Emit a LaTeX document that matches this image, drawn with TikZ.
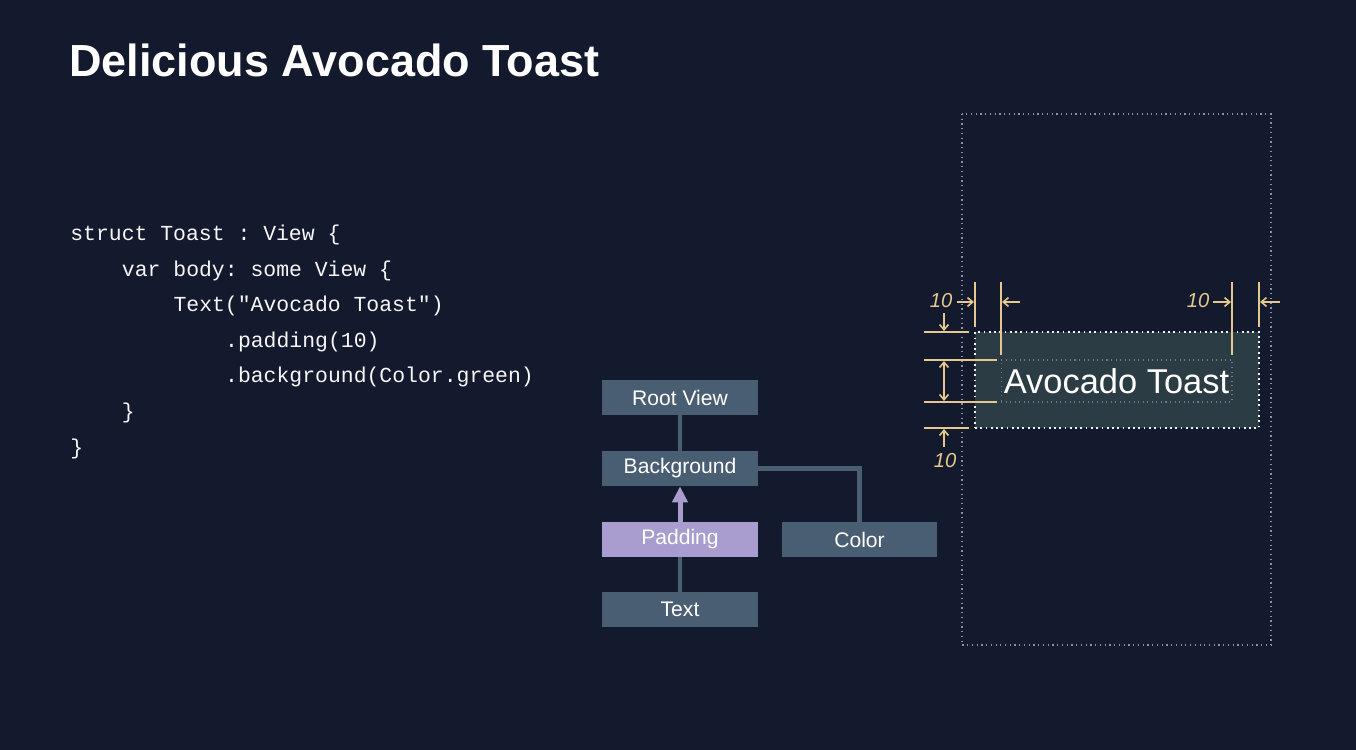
\documentclass[tikz,border=0pt]{standalone}
\usepackage{fontspec}
\setmainfont{Liberation Sans}
\setmonofont{Liberation Mono}
\usepackage{xcolor}
\usetikzlibrary{arrows.meta,positioning}

\definecolor{bgc}{HTML}{141A2E}
\definecolor{boxc}{HTML}{4A5E73}
\definecolor{padc}{HTML}{A99CCF}
\definecolor{greenc}{HTML}{2C3C44}
\definecolor{goldc}{HTML}{E5C88E}
\definecolor{framec}{HTML}{8A93A6}

\begin{document}
\begin{tikzpicture}[x=0.02cm, y=-0.02cm,
    tree/.style={rectangle, fill=boxc, minimum width=3.12cm, minimum height=0.7cm, inner sep=0pt, text=white, font=\fontsize{12}{14}\selectfont},
    code/.style={anchor=base west, inner sep=0pt, text=white!94!gray, font=\ttfamily\fontsize{12.2}{14}\selectfont},
    link/.style={draw=boxc, line width=0.09cm},
    dim/.style={draw=goldc, line width=0.9pt},
    dimarrow/.style={dim, -{Straight Barb[length=3pt, width=5pt]}},
    dimlabel/.style={text=goldc, inner sep=0pt, font=\itshape\fontsize{11.5}{13}\selectfont}]

    % Background
    \fill[bgc] (0,0) rectangle (1356,750);

    % Title
    \node[anchor=base west, inner sep=0pt, text=white, font=\bfseries\fontsize{25.6}{30}\selectfont] (title) at (69,77) {Delicious Avocado Toast};

    % Code
    \node[code] (c1) at (70,240.5) {struct Toast : View \{};
    \node[code] (c2) at (121.6,276.1) {var body: some View \{};
    \node[code] (c3) at (173.2,311.7) {Text("Avocado Toast")};
    \node[code] (c4) at (224.8,347.3) {.padding(10)};
    \node[code] (c5) at (224.8,382.9) {.background(Color.green)};
    \node[code] (c6) at (121.6,418.5) {\}};
    \node[code] (c7) at (70,454.1) {\}};

    % View tree
    \node[tree] (root) at (680,397.5) {Root View};
    \node[tree] (bg) at (680,468.5) {Background};
    \node[tree, fill=padc] (pad) at (680,539.5) {Padding};
    \node[tree] (txt) at (680,609.5) {Text};
    \node[tree] (color) at (859.5,539.5) {Color};

    % Tree connections
    \draw[link] (root) -- (bg);
    \draw[link] (txt) -- (pad);
    \draw[link] (bg.east) -| (color.north);
    \draw[draw=padc, line width=0.1cm, -{Triangle[width=0.3cm, length=0.32cm]}] (pad) -- (bg);

    % Preview frame
    \draw[framec, line width=0.7pt, dotted] (962,114) rectangle (1271,645);
    \node[rectangle, fill=greenc, draw=white!90!gray, line width=1pt, dotted, minimum width=5.68cm, minimum height=1.92cm, inner sep=0pt] (bgbox) at (1117,380) {};
    \node[rectangle, draw=framec!70!greenc, line width=0.6pt, dotted, minimum width=4.62cm, minimum height=0.84cm, inner sep=0pt] (txtbox) at (1116.5,381) {};
    \node[text=white, font=\fontsize{19.6}{22}\selectfont, inner sep=0pt] (toast) at (txtbox) {Avocado Toast};

    % Horizontal padding marks
    \draw[dim] (975,282) -- (975,327);
    \draw[dim] (1001,282) -- (1001,355);
    \draw[dim] (1232,282) -- (1232,355);
    \draw[dim] (1259,282) -- (1259,327);
    \draw[dimarrow] (957,302) -- (974,302);
    \draw[dimarrow] (1020,302) -- (1002,302);
    \draw[dimarrow] (1213,302) -- (1231,302);
    \draw[dimarrow] (1280,302) -- (1260,302);
    \node[dimlabel] (l1) at (941,301) {10};
    \node[dimlabel] (l2) at (1198,301) {10};

    % Vertical padding marks
    \draw[dim] (924,332) -- (969,332);
    \draw[dim] (924,360) -- (997,360);
    \draw[dim] (924,402) -- (997,402);
    \draw[dim] (924,428) -- (969,428);
    \draw[dimarrow] (944,313) -- (944,331);
    \draw[dim, {Straight Barb[length=3pt, width=5pt]}-{Straight Barb[length=3pt, width=5pt]}] (944,361) -- (944,401);
    \draw[dimarrow] (944,447) -- (944,429);
    \node[dimlabel] (l3) at (945,461) {10};
\end{tikzpicture}
\end{document}
